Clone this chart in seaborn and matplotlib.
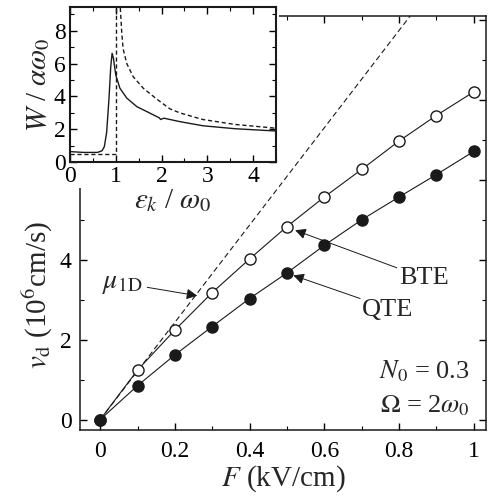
import matplotlib
matplotlib.use("Agg")
import matplotlib.pyplot as plt
import seaborn as sns
from matplotlib.ticker import MultipleLocator, FuncFormatter
from matplotlib.patches import Rectangle

# main panel: drift velocity vs field
field = [0.0, 0.1, 0.2, 0.3, 0.4, 0.5, 0.6, 0.7, 0.8, 0.9, 1.0]
v_bte = [0.0, 1.24, 2.24, 3.18, 4.02, 4.83, 5.57, 6.26, 6.97, 7.61, 8.2]
v_qte = [0.0, 0.85, 1.62, 2.33, 3.03, 3.67, 4.36, 5.0, 5.57, 6.13, 6.71]
mu_field = [0.0, 1.0]
mu_v = [0.0, 12.17]

# inset: scattering rate vs energy
eps_bte_a = [0.0, 1.0, 1.0]
w_bte_a = [0.5, 0.5, 9.8]
eps_bte_b = [1.09, 1.13, 1.16, 1.24, 1.38, 1.6, 1.89, 2.18, 2.4, 2.9, 3.6, 4.5]
w_bte_b = [9.8, 7.9, 6.9, 6.0, 5.2, 4.5, 3.85, 3.25, 3.0, 2.6, 2.3, 2.07]
eps_qte = [0.0, 0.3, 0.6, 0.7, 0.75, 0.8, 0.85, 0.89, 0.92, 0.95, 1.0, 1.09,
           1.24, 1.46, 1.75, 1.95, 1.98, 2.05, 2.4, 2.9, 3.6, 4.5]
w_qte = [0.65, 0.6, 0.6, 0.7, 0.95, 1.8, 3.8, 5.8, 6.62, 6.3, 5.3, 4.5,
         3.9, 3.38, 2.98, 2.7, 2.6, 2.68, 2.47, 2.22, 2.04, 1.9]

sns.set_theme(style="ticks")
plt.rcParams["font.family"] = "serif"
plt.rcParams["font.serif"] = ["Liberation Serif", "DejaVu Serif"]
plt.rcParams["mathtext.fontset"] = "stix"
for a in ("xtick", "ytick"):
    plt.rcParams[a + ".direction"] = "in"
    plt.rcParams[a + ".major.size"] = 5
    plt.rcParams[a + ".minor.size"] = 3
    plt.rcParams[a + ".major.width"] = 1.0
    plt.rcParams[a + ".minor.width"] = 0.8
    plt.rcParams[a + ".color"] = "black"

fig = plt.figure(figsize=(4.9, 4.99), dpi=100)
ax = fig.add_axes([80 / 490, 1 - 430 / 499, 406 / 490, 414 / 499])

sns.lineplot(x=mu_field, y=mu_v, ax=ax, color="k", lw=0.8, linestyle=(0, (5, 3)))
sns.lineplot(x=field, y=v_bte, ax=ax, color="k", lw=0.8, marker="o", markersize=8,
             markerfacecolor="white", markeredgecolor="k", markeredgewidth=1)
sns.lineplot(x=field, y=v_qte, ax=ax, color="k", lw=0.8, marker="o", markersize=8,
             markerfacecolor="k", markeredgecolor="k", markeredgewidth=1)

ax.set_xlim(-0.054, 1.033)
ax.set_ylim(-0.26, 10.1)
ax.xaxis.set_major_locator(MultipleLocator(0.2))
ax.xaxis.set_minor_locator(MultipleLocator(0.1))
ax.yaxis.set_major_locator(MultipleLocator(2))
ax.yaxis.set_minor_locator(MultipleLocator(1))
ax.xaxis.set_major_formatter(FuncFormatter(lambda v, p: "0" if abs(v) < 1e-9 else ("1" if abs(v - 1) < 1e-9 else f"{v:.1f}")))
ax.yaxis.set_major_formatter(FuncFormatter(lambda v, p: f"{v:.0f}" if v < 5 else ""))
ax.tick_params(which="both", top=True, right=True, labelsize=17)
ax.tick_params(axis="x", pad=8)
ax.tick_params(axis="y", pad=6)
for s in ax.spines.values():
    s.set_linewidth(1.1)
    s.set_color("k")

ax.set_xlabel(r"$F$ (kV/cm)", fontsize=21)
ax.set_ylabel(r"$v_\mathrm{d}$ (10$^6$cm/s)", fontsize=21)
ax.xaxis.set_label_coords(0.5, -0.08)
ax.yaxis.set_label_coords(-0.062, 0.326)

arrow = dict(arrowstyle="-|>", color="k", lw=0.7, mutation_scale=16, shrinkA=0, shrinkB=0)
ax.text(0.006, 3.4, r"$\mu_\mathrm{1D}$", fontsize=20, ha="left", va="center")
ax.annotate("", xy=(0.26, 3.10), xytext=(0.126, 3.31), arrowprops=arrow)
ax.text(0.80, 3.55, "BTE", fontsize=19, ha="left", va="center")
ax.annotate("", xy=(0.522, 4.74), xytext=(0.794, 3.80), arrowprops=arrow)
ax.text(0.70, 2.74, "QTE", fontsize=19, ha="left", va="center")
ax.annotate("", xy=(0.517, 3.61), xytext=(0.696, 3.03), arrowprops=arrow)
ax.text(0.99, 1.2, r"$N_0$ = 0.3", fontsize=19, ha="right", va="center")
ax.text(0.99, 0.34, r"$\Omega$ = 2$\omega_0$", fontsize=19, ha="right", va="center")

# white area behind the inset and its labels
fig.patches.append(Rectangle((0, 1 - 188 / 499), 279 / 490, 188 / 499,
                             transform=fig.transFigure, facecolor="white",
                             edgecolor="none", zorder=1))

ins = fig.add_axes([70 / 490, 1 - 162.3 / 499, 206 / 490, 155.6 / 499])
ins.set_zorder(2)
sns.lineplot(x=eps_bte_a, y=w_bte_a, ax=ins, color="k", lw=1.0, linestyle=(0, (3, 2)),
             estimator=None, sort=False)
sns.lineplot(x=eps_bte_b, y=w_bte_b, ax=ins, color="k", lw=1.0, linestyle=(0, (3, 2)),
             estimator=None, sort=False)
sns.lineplot(x=eps_qte, y=w_qte, ax=ins, color="k", lw=1.0, estimator=None, sort=False)
ins.set_xlim(0, 4.5)
ins.set_ylim(0, 9.45)
ins.xaxis.set_major_locator(MultipleLocator(1))
ins.xaxis.set_minor_locator(MultipleLocator(0.5))
ins.yaxis.set_major_locator(MultipleLocator(2))
ins.yaxis.set_minor_locator(MultipleLocator(1))
ins.tick_params(which="both", top=True, right=True, labelsize=17, pad=3)
for s in ins.spines.values():
    s.set_linewidth(1.5)
    s.set_color("k")
ins.set_xlabel(r"$\varepsilon_k$ / $\omega_0$", fontsize=21, labelpad=0)
ins.set_ylabel(r"$W$ / $\alpha\omega_0$", fontsize=21, labelpad=1)

fig.savefig("out.png", dpi=100)
